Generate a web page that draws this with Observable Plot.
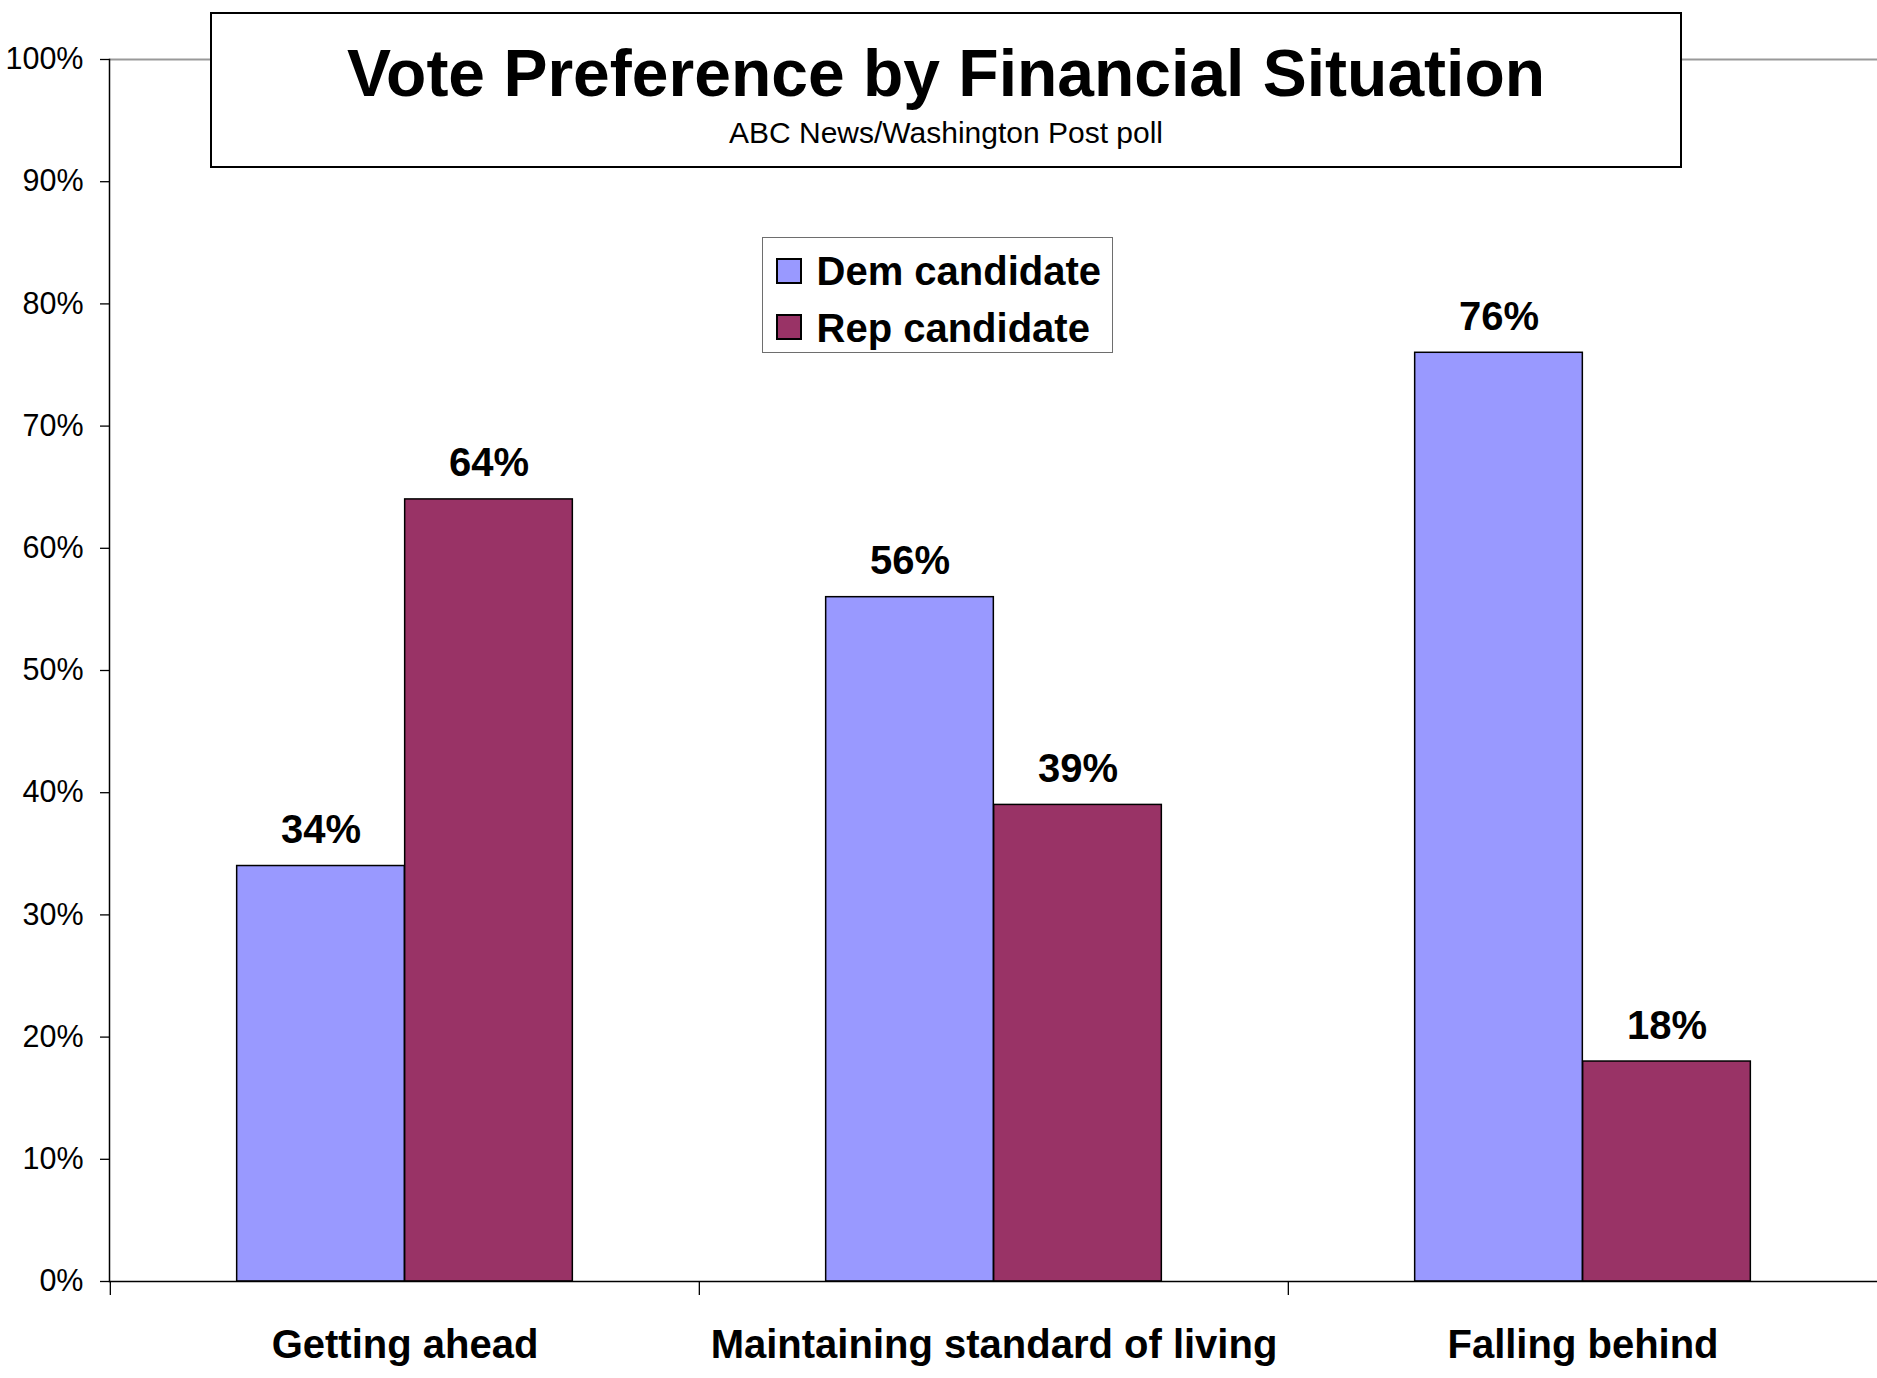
<!DOCTYPE html>
<html>
<head>
<meta charset="utf-8">
<script src="https://cdn.jsdelivr.net/npm/d3@7"></script>
<script src="https://cdn.jsdelivr.net/npm/@observablehq/plot@0.6"></script>
<style>
  html, body { margin: 0; padding: 0; background: #fff; }
  body { font-family: "Liberation Sans", Arial, Helvetica, sans-serif; }
  #wrap { position: relative; width: 1877px; height: 1378px; overflow: hidden; background: #fff; }
  #chart { position: absolute; left: 0; top: 0; }
  #chart svg { display: block; }
  #titlebox { position: absolute; left: 210px; top: 12px; width: 1472px; height: 156px; box-sizing: border-box;
              border: 2px solid #000; background: #fff; }
  #title { position: absolute; left: 0; right: 0; top: 26px; text-align: center; font-size: 66px; line-height: 66px;
           font-weight: bold; color: #000; white-space: nowrap; }
  #subtitle { position: absolute; left: 0; right: 0; top: 104px; text-align: center; font-size: 30px; line-height: 30px;
              color: #000; white-space: nowrap; }
  #legend { position: absolute; left: 762px; top: 237px; width: 351px; height: 116px; box-sizing: border-box;
            border: 1.5px solid #6e6e6e; background: #fff; }
  .sw { position: absolute; left: 12.5px; width: 26px; height: 26px; box-sizing: border-box; border: 2px solid #000; }
  .lt { position: absolute; left: 53.5px; font-size: 40px; line-height: 40px; font-weight: bold; color: #000; white-space: nowrap; }
</style>
</head>
<body>
<div id="wrap">
  <div id="chart"></div>
  <div id="titlebox">
    <div id="title"></div>
    <div id="subtitle"></div>
  </div>
  <div id="legend"></div>
</div>
<script>
// ---- Data ----
const categories = ["Getting ahead", "Maintaining standard of living", "Falling behind"];
const seriesNames = ["Dem candidate", "Rep candidate"];
const demValues = [34, 56, 76];
const repValues = [64, 39, 18];
const yTicks = [0, 10, 20, 30, 40, 50, 60, 70, 80, 90, 100];
const seriesColors = ["#9999FF", "#993366"];
const titleText = "Vote Preference by Financial Situation";
const subtitleText = "ABC News/Washington Post poll";

// ---- Layout ----
const W = 1877, H = 1378;
const mL = 109, mR = 0, mT = 59, mB = 97;
const bw = (W - mL - mR) / categories.length;   // band width
const barW = 168;
const outer = (bw - 2 * barW) / 2;

const rows = categories.map((c, i) => ({category: c, dem: demValues[i], rep: repValues[i]}));

const chart = Plot.plot({
  width: W,
  height: H,
  marginLeft: mL,
  marginRight: mR,
  marginTop: mT,
  marginBottom: mB,
  style: {fontFamily: '"Liberation Sans", Arial, sans-serif', background: "#fff", color: "#000", overflow: "visible"},
  x: {domain: categories, padding: 0, axis: null, label: null},
  y: {domain: [0, 100], axis: null, label: null},
  marks: [
    Plot.ruleY([100], {stroke: "#999", strokeWidth: 2}),
    Plot.barY(rows, {x: "category", y: "dem", fill: seriesColors[0], stroke: "#000", strokeWidth: 1.5,
                     insetLeft: outer, insetRight: outer + barW}),
    Plot.barY(rows, {x: "category", y: "rep", fill: seriesColors[1], stroke: "#000", strokeWidth: 1.5,
                     insetLeft: outer + barW, insetRight: outer}),
    Plot.text(rows, {x: "category", y: "dem", text: d => d.dem + "%", dx: -barW / 2, dy: -23,
                     lineAnchor: "bottom", fontSize: 40, fontWeight: "bold", fill: "#000"}),
    Plot.text(rows, {x: "category", y: "rep", text: d => d.rep + "%", dx: barW / 2, dy: -23,
                     lineAnchor: "bottom", fontSize: 40, fontWeight: "bold", fill: "#000"}),
    Plot.axisY({ticks: yTicks, tickFormat: d => d + "%", tickSize: 9, tickPadding: 17, fontSize: 30.5,
                strokeWidth: 1.3, label: null}),
    Plot.axisX({tickSize: 0, tickPadding: 48, fontSize: 40, fontWeight: "bold", label: null}),
    Plot.ruleY([0], {stroke: "#000", strokeWidth: 1.5}),
    Plot.frame({anchor: "left", stroke: "#000", strokeWidth: 1.5}),
    Plot.ruleX(categories, {x: d => d, dx: -bw / 2, y1: 0, y2: 0, insetBottom: -14, stroke: "#000", strokeWidth: 1.3})
  ]
});
document.getElementById("chart").appendChild(chart);

document.getElementById("title").textContent = titleText;
document.getElementById("subtitle").textContent = subtitleText;

const legend = document.getElementById("legend");
const swTops = [19.5, 75.5], txtTops = [13, 69.5];
seriesNames.forEach((name, i) => {
  const sw = document.createElement("div");
  sw.className = "sw";
  sw.style.top = swTops[i] + "px";
  sw.style.background = seriesColors[i];
  legend.appendChild(sw);
  const t = document.createElement("div");
  t.className = "lt";
  t.style.top = txtTops[i] + "px";
  t.textContent = name;
  legend.appendChild(t);
});
</script>
</body>
</html>
